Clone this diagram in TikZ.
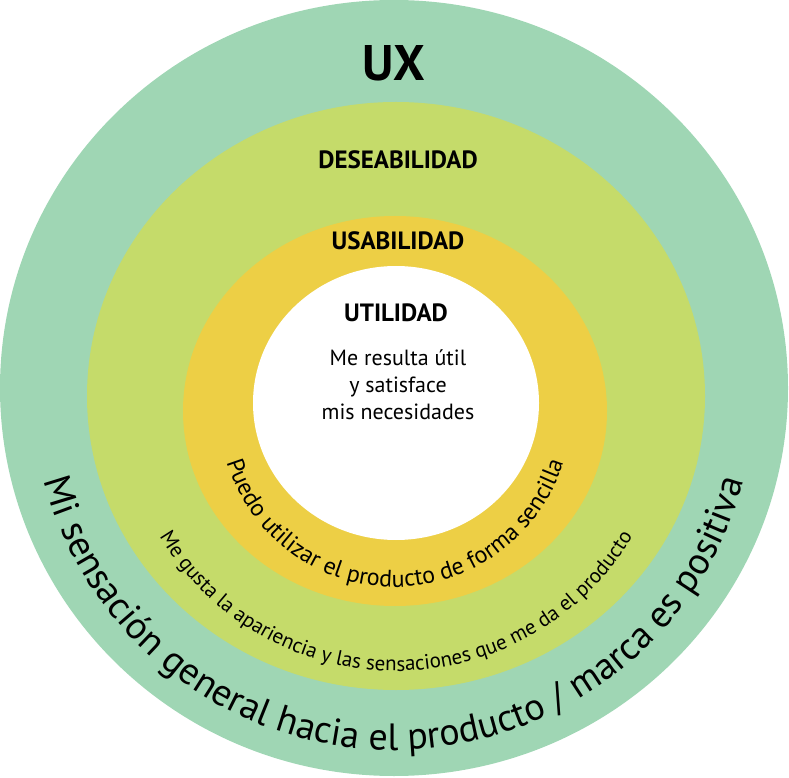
\documentclass[tikz,border=0pt]{standalone}
\usepackage{fontspec}
\setmainfont{PT Sans}
\usetikzlibrary{decorations.text}
\definecolor{cout}{HTML}{9FD6B4}
\definecolor{cyg}{HTML}{C5DB6A}
\definecolor{cor}{HTML}{EDCF45}
\tikzset{title/.style={font=\bfseries\fontsize{25}{25}\selectfont}}
\newcommand{\fontA}{\fontsize{38}{38}\selectfont}
\newcommand{\fontB}{\fontsize{21}{21}\selectfont}
\newcommand{\fontC}{\fontsize{24}{24}\selectfont}
\begin{document}
\begin{tikzpicture}[x=1pt,y=1pt]
\useasboundingbox (0,0) rectangle (789,777);
\coordinate (co) at (394,389);
\coordinate (cy) at (396,381);
\coordinate (cr) at (395,366);
\coordinate (cw) at (396,374);
\fill[cout] (co) ellipse[x radius=394,y radius=388];
\fill[cyg] (cy) ellipse[x radius=309,y radius=294];
\fill[cor] (cr) ellipse[x radius=212,y radius=195];
\fill[white] (cw) ellipse[x radius=143,y radius=137];
\node[font=\bfseries\fontsize{50}{50}\selectfont] (ux) at (394,714) {UX};
\node[title] (des) at (398,617) {DESEABILIDAD};
\node[title] (usa) at (398,536) {USABILIDAD};
\node[title] (uti) at (396,464) {UTILIDAD};
\node[align=center,font=\fontsize{22}{27}\selectfont] (txt) at (398,392) {Me resulta útil\\y satisface\\mis necesidades};
\path[decorate,decoration={text along path,text align=center,
  text={|\fontA|Mi sensación general hacia el producto / marca es positiva}}]
  ([shift={(186:362)}]co) arc[start angle=186,end angle=354,radius=362];
\path[decorate,decoration={text along path,text align=center,
  text={|\fontB|Me gusta la apariencia y las sensaciones que me da el producto}}]
  ([shift={(184:275)}]cy) arc[start angle=184,end angle=356,radius=275];
\path[decorate,decoration={text along path,text align=center,
  text={|\fontC|Puedo utilizar el producto de forma sencilla}}]
  ([shift={(172:176)}]cr) arc[start angle=172,end angle=368,radius=176];
\end{tikzpicture}
\end{document}
